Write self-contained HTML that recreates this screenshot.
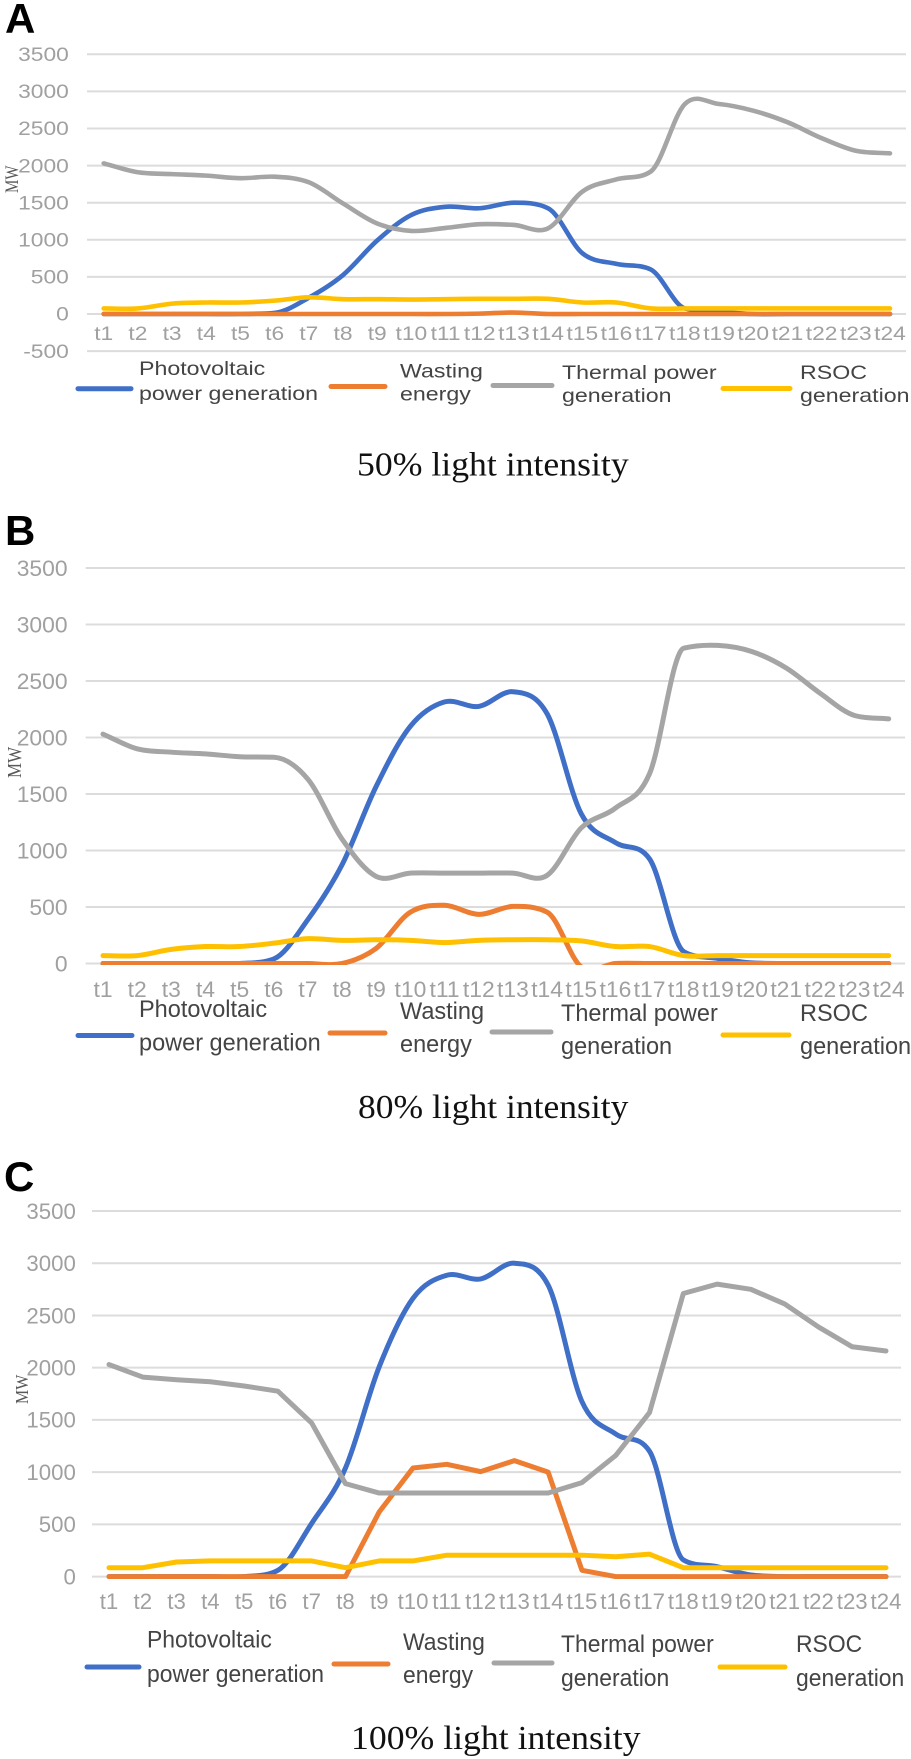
<!DOCTYPE html>
<html lang="en">
<head>
<meta charset="utf-8">
<title>Power generation under different light intensities</title>
<style>
html,body{margin:0;padding:0;background:#fff;width:911px;height:1759px;overflow:hidden}
svg{display:block}
.tick{font-family:"Liberation Sans",sans-serif;fill:#a0a0a0}
.leg{font-family:"Liberation Sans",sans-serif;fill:#444}
.cap{font-family:"Liberation Serif",serif;fill:#111}
.letter{font-family:"Liberation Sans",sans-serif;font-weight:bold;font-size:42px;fill:#000}
.mw{font-family:"Liberation Serif",serif;fill:#595959}
.key{fill:none;stroke-linecap:round;stroke-width:5}
</style>
</head>
<body>
<svg id="figure" width="911" height="1759" viewBox="0 0 911 1759" xmlns="http://www.w3.org/2000/svg">
  <rect width="911" height="1759" fill="#fff"/>
  <defs>
    <clipPath id="clip-b"><rect x="80" y="540" width="831" height="425"/></clipPath>
    <clipPath id="clip-c"><rect x="80" y="1190" width="831" height="389"/></clipPath>
  </defs>

  <text class="letter" x="5" y="33">A</text>
  <text class="letter" x="5" y="545">B</text>
  <text class="letter" x="4" y="1191">C</text>

  <g id="chart-a"></g>
  <g id="chart-b"></g>
  <g id="chart-c"></g>

  <text class="mw" font-size="15" transform="translate(18,193) rotate(-90) scale(1,1.25)">MW</text>
  <text class="mw" font-size="17" transform="translate(21,778) rotate(-90) scale(1,1.15)">MW</text>
  <text class="mw" font-size="16" transform="translate(28,1404) rotate(-90) scale(1,1.15)">MW</text>

  <!-- Legend A -->
  <g>
    <g>
      <line class="key" x1="78" x2="131" y1="388.7" y2="388.7" stroke="#3f6fc6"/>
      <text class="leg" font-size="19" transform="translate(139,375) scale(1.22,1)">Photovoltaic</text>
      <text class="leg" font-size="19" transform="translate(139,400) scale(1.22,1)">power generation</text>
    </g>
    <g>
      <line class="key" x1="331" x2="385" y1="386.5" y2="386.5" stroke="#ed7d31"/>
      <text class="leg" font-size="19" transform="translate(400,377.5) scale(1.22,1)">Wasting</text>
      <text class="leg" font-size="19" transform="translate(400,400.5) scale(1.22,1)">energy</text>
    </g>
    <g>
      <line class="key" x1="493" x2="552" y1="385.5" y2="385.5" stroke="#a5a5a5"/>
      <text class="leg" font-size="19" transform="translate(562,379) scale(1.22,1)">Thermal power</text>
      <text class="leg" font-size="19" transform="translate(562,402) scale(1.22,1)">generation</text>
    </g>
    <g>
      <line class="key" x1="723" x2="790" y1="388.5" y2="388.5" stroke="#ffc000"/>
      <text class="leg" font-size="19" transform="translate(800,379) scale(1.22,1)">RSOC</text>
      <text class="leg" font-size="19" transform="translate(800,402) scale(1.22,1)">generation</text>
    </g>
  </g>
  <text class="cap" font-size="34" transform="translate(357,475.5) scale(1.05,1)">50% light intensity</text>

  <!-- Legend B -->
  <g>
    <g>
      <line class="key" x1="78" x2="132" y1="1035.5" y2="1035.5" stroke="#3f6fc6"/>
      <text class="leg" font-size="24" transform="translate(139,1017) scale(0.98,1)">Photovoltaic</text>
      <text class="leg" font-size="24" transform="translate(139,1050.5) scale(0.98,1)">power generation</text>
    </g>
    <g>
      <line class="key" x1="330" x2="385" y1="1033" y2="1033" stroke="#ed7d31"/>
      <text class="leg" font-size="24" transform="translate(400,1019) scale(0.98,1)">Wasting</text>
      <text class="leg" font-size="24" transform="translate(400,1052) scale(0.98,1)">energy</text>
    </g>
    <g>
      <line class="key" x1="492" x2="551" y1="1032" y2="1032" stroke="#a5a5a5"/>
      <text class="leg" font-size="24" transform="translate(561,1021) scale(0.98,1)">Thermal power</text>
      <text class="leg" font-size="24" transform="translate(561,1054) scale(0.98,1)">generation</text>
    </g>
    <g>
      <line class="key" x1="723" x2="789" y1="1035" y2="1035" stroke="#ffc000"/>
      <text class="leg" font-size="24" transform="translate(800,1021) scale(0.98,1)">RSOC</text>
      <text class="leg" font-size="24" transform="translate(800,1054) scale(0.98,1)">generation</text>
    </g>
  </g>
  <text class="cap" font-size="34" transform="translate(358,1118) scale(1.045,1)">80% light intensity</text>

  <!-- Legend C -->
  <g>
    <g>
      <line class="key" x1="87" x2="139" y1="1667" y2="1667" stroke="#3f6fc6"/>
      <text class="leg" font-size="24" transform="translate(147,1647.5) scale(0.955,1)">Photovoltaic</text>
      <text class="leg" font-size="24" transform="translate(147,1682) scale(0.955,1)">power generation</text>
    </g>
    <g>
      <line class="key" x1="334" x2="388" y1="1664" y2="1664" stroke="#ed7d31"/>
      <text class="leg" font-size="24" transform="translate(403,1650) scale(0.955,1)">Wasting</text>
      <text class="leg" font-size="24" transform="translate(403,1683) scale(0.955,1)">energy</text>
    </g>
    <g>
      <line class="key" x1="494" x2="552" y1="1663" y2="1663" stroke="#a5a5a5"/>
      <text class="leg" font-size="24" transform="translate(561,1652) scale(0.955,1)">Thermal power</text>
      <text class="leg" font-size="24" transform="translate(561,1686) scale(0.955,1)">generation</text>
    </g>
    <g>
      <line class="key" x1="720" x2="785" y1="1667" y2="1667" stroke="#ffc000"/>
      <text class="leg" font-size="24" transform="translate(796,1652) scale(0.955,1)">RSOC</text>
      <text class="leg" font-size="24" transform="translate(796,1686) scale(0.955,1)">generation</text>
    </g>
  </g>
  <text class="cap" font-size="34" transform="translate(351,1749) scale(1.05,1)">100% light intensity</text>
</svg>

<script>
// Shared categories
const categories = ["t1","t2","t3","t4","t5","t6","t7","t8","t9","t10","t11","t12","t13","t14","t15","t16","t17","t18","t19","t20","t21","t22","t23","t24"];

// Y tick labels
const ticksA = [3500,3000,2500,2000,1500,1000,500,0,-500];
const ticksB = [3500,3000,2500,2000,1500,1000,500,0];
const ticksC = [3500,3000,2500,2000,1500,1000,500,0];

// Panel A: 50% light intensity (MW)
const pvA = [0,0,0,0,0,15,220,525,990,1335,1445,1425,1500,1425,820,675,600,75,30,0,0,0,0,0];
const wasteA = [0,0,0,0,0,0,0,0,0,0,0,5,20,0,0,0,0,0,0,0,0,0,0,0];
const thermalA = [2030,1910,1885,1865,1830,1850,1775,1490,1220,1120,1160,1210,1200,1155,1650,1815,1920,2830,2830,2740,2585,2370,2200,2165];
const rsocA = [75,75,140,155,155,180,225,200,200,195,200,205,205,205,155,155,75,75,75,75,75,75,75,75];

// Panel B: 80% light intensity (MW)
const pvB = [0,0,0,0,0,40,390,875,1570,2100,2315,2275,2405,2210,1325,1070,925,105,45,5,0,0,0,0];
const wasteB = [0,0,0,0,0,0,0,0,135,455,515,435,505,455,-30,0,0,0,0,0,0,0,0,0];
const thermalB = [2030,1900,1870,1855,1830,1825,1630,1100,770,800,800,800,800,780,1200,1375,1680,2790,2815,2760,2615,2390,2195,2165];
const rsocB = [70,70,125,150,150,180,220,205,210,205,185,205,210,210,200,150,150,70,70,70,70,70,70,70];

// Panel C: 100% light intensity (MW)
const pvC = [0,0,0,0,0,60,510,1040,2010,2665,2885,2850,3000,2790,1675,1365,1200,160,95,15,0,0,0,0];
const wasteC = [0,0,0,0,0,0,0,0,620,1040,1075,1005,1110,1000,60,0,0,0,0,0,0,0,0,0];
const thermalC = [2030,1910,1885,1865,1825,1775,1470,890,800,800,800,800,800,800,900,1160,1570,2710,2800,2750,2610,2390,2200,2160];
const rsocC = [85,85,140,150,150,150,150,85,150,150,205,205,205,205,205,190,215,85,85,85,85,85,85,85];

const NS = "http://www.w3.org/2000/svg";

// Tangent for a smoothed line: central difference, limited on monotone runs to avoid false wiggles
function tangent(pts, i){
  const p0 = pts[Math.max(i-1,0)], p2 = pts[Math.min(i+1,pts.length-1)];
  let m = (p2[1]-p0[1]) / (p2[0]-p0[0]);
  if (i > 0 && i < pts.length-1){
    const d1 = (pts[i][1]-pts[i-1][1]) / (pts[i][0]-pts[i-1][0]);
    const d2 = (pts[i+1][1]-pts[i][1]) / (pts[i+1][0]-pts[i][0]);
    if (d1*d2 > 0){
      const lim = 3*Math.min(Math.abs(d1),Math.abs(d2));
      if (Math.abs(m) > lim) m = Math.sign(m)*lim;
    }
  }
  return m;
}
function smoothPath(pts){
  let d = "M" + pts[0][0].toFixed(2) + " " + pts[0][1].toFixed(2);
  for (let i = 0; i < pts.length - 1; i++){
    const p1 = pts[i], p2 = pts[i+1], h = (p2[0]-p1[0])/3;
    const c1x = p1[0] + h, c1y = p1[1] + tangent(pts,i)*h;
    const c2x = p2[0] - h, c2y = p2[1] - tangent(pts,i+1)*h;
    d += "C" + c1x.toFixed(2) + " " + c1y.toFixed(2) + " " + c2x.toFixed(2) + " " + c2y.toFixed(2) + " " + p2[0].toFixed(2) + " " + p2[1].toFixed(2);
  }
  return d;
}
function straightPath(pts){
  return pts.map((p,i)=>(i?"L":"M")+p[0].toFixed(2)+" "+p[1].toFixed(2)).join("");
}

function drawChart(cfg){
  const root = document.getElementById(cfg.id);
  const xScale = i => cfg.x0 + (cfg.x1 - cfg.x0) * i / (categories.length - 1);
  const yScale = v => cfg.y0 - (cfg.y0 - cfg.y3500) * v / 3500;

  cfg.ticks.forEach(t => {
    const line = document.createElementNS(NS,"line");
    
    
    line.setAttribute("x1", cfg.gridL);
    line.setAttribute("x2", cfg.gridR);
    line.setAttribute("y1", yScale(t));
    line.setAttribute("y2", yScale(t));
    line.setAttribute("stroke", "#dcdcdc");
    line.setAttribute("stroke-width", "2");
    root.appendChild(line);

    const label = document.createElementNS(NS,"text");
    
    
    label.setAttribute("class", "tick");
    label.setAttribute("font-size", cfg.font);
    label.setAttribute("text-anchor", "end");
    label.setAttribute("transform", "translate(" + cfg.yLabelX + "," + (yScale(t) + cfg.font * 0.355) + ") scale(" + cfg.sx + ",1)");
    label.textContent = t;
    root.appendChild(label);
  });

  categories.forEach((c,i) => {
    const label = document.createElementNS(NS,"text");
    
    
    label.setAttribute("class", "tick");
    label.setAttribute("font-size", cfg.font);
    label.setAttribute("text-anchor", "middle");
    label.setAttribute("transform", "translate(" + xScale(i) + "," + cfg.xLabelY + ") scale(" + cfg.sx + ",1)");
    label.textContent = c;
    root.appendChild(label);
  });

  const plot = document.createElementNS(NS,"g");
  
  
  if (cfg.clip) plot.setAttribute("clip-path", "url(#" + cfg.clip + ")");
  root.appendChild(plot);

  cfg.series.forEach(s => {
    const pts = s.values.map((v,i) => [xScale(i), yScale(v)]);
    const path = document.createElementNS(NS,"path");
    
    
    path.setAttribute("d", s.smooth ? smoothPath(pts) : straightPath(pts));
    path.setAttribute("fill", "none");
    path.setAttribute("stroke", s.color);
    path.setAttribute("stroke-width", cfg.lineW);
    path.setAttribute("stroke-linecap", "round");
    path.setAttribute("stroke-linejoin", "round");
    plot.appendChild(path);
  });
}

const BLUE = "#3f6fc6", ORANGE = "#ed7d31", GRAY = "#a5a5a5", YELLOW = "#ffc000";

drawChart({
  id:"chart-a", ticks:ticksA, x0:103.7, x1:890, y0:314, y3500:54.3, gridL:87, gridR:906,
  yLabelX:68.8, xLabelY:340, font:19, sx:1.2, lineW:4.6, clip:null,
  series:[
    {name:"line-photovoltaic", values:pvA, color:BLUE, smooth:true},
    {name:"line-wasting", values:wasteA, color:ORANGE, smooth:true},
    {name:"line-thermal", values:thermalA, color:GRAY, smooth:true},
    {name:"line-rsoc", values:rsocA, color:YELLOW, smooth:true}
  ]
});
drawChart({
  id:"chart-b", ticks:ticksB, x0:103, x1:888.7, y0:963.5, y3500:568, gridL:85.7, gridR:905,
  yLabelX:67.6, xLabelY:997, font:22, sx:1.04, lineW:5, clip:"clip-b",
  series:[
    {name:"line-photovoltaic", values:pvB, color:BLUE, smooth:true},
    {name:"line-wasting", values:wasteB, color:ORANGE, smooth:true},
    {name:"line-thermal", values:thermalB, color:GRAY, smooth:true},
    {name:"line-rsoc", values:rsocB, color:YELLOW, smooth:true}
  ]
});
drawChart({
  id:"chart-c", ticks:ticksC, x0:109, x1:886, y0:1576.6, y3500:1211, gridL:92, gridR:901,
  yLabelX:75.8, xLabelY:1609, font:22, sx:1.01, lineW:5, clip:"clip-c",
  series:[
    {name:"line-photovoltaic", values:pvC, color:BLUE, smooth:true},
    {name:"line-wasting", values:wasteC, color:ORANGE, smooth:false},
    {name:"line-thermal", values:thermalC, color:GRAY, smooth:false},
    {name:"line-rsoc", values:rsocC, color:YELLOW, smooth:false}
  ]
});
</script>
</body>
</html>
